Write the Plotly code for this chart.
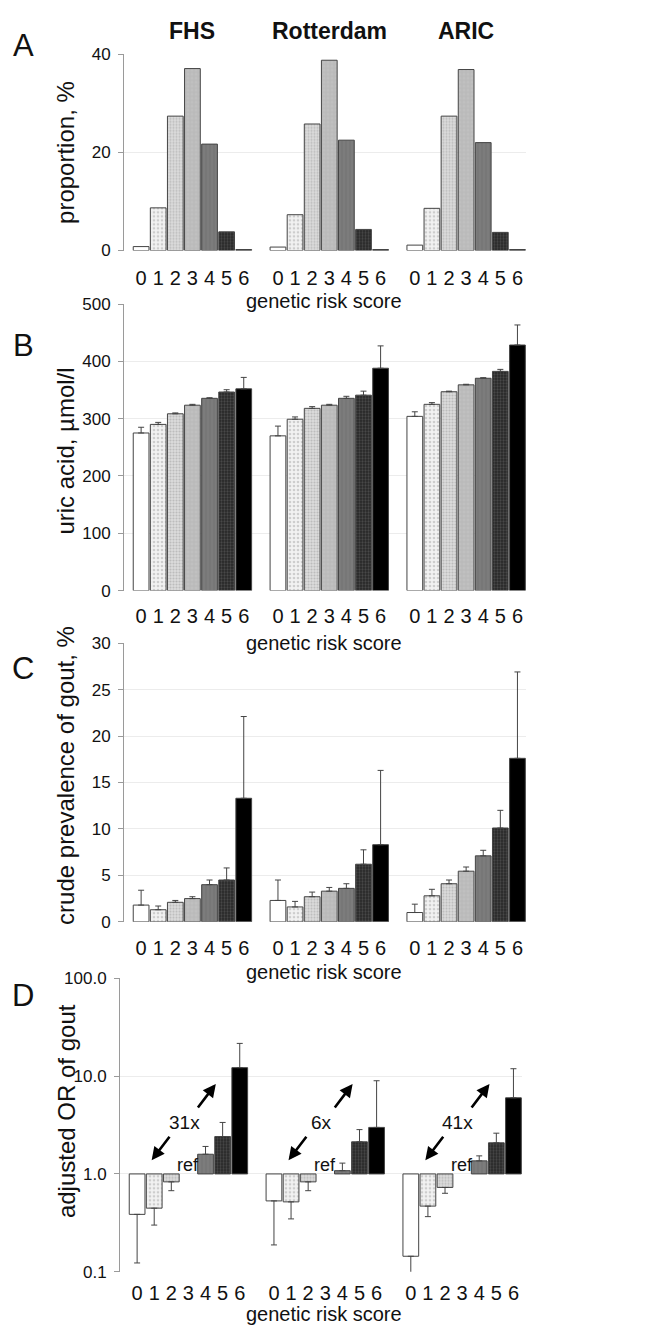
import plotly.graph_objects as go

# ---------------- data ----------------
groups = ["FHS", "Rotterdam", "ARIC"]
scores = ["0", "1", "2", "3", "4", "5", "6"]
fold_labels = ["31x", "6x", "41x"]

# A: proportion, %
prop_fhs = [0.8, 8.7, 27.4, 37.1, 21.7, 3.8, 0.2]
prop_rot = [0.7, 7.3, 25.8, 38.8, 22.5, 4.3, 0.2]
prop_aric = [1.1, 8.6, 27.4, 36.9, 22.0, 3.7, 0.2]

# B: uric acid, umol/l (mean and upper error)
uric_fhs = [275, 290, 308.5, 323.5, 335.5, 346.5, 352]
uric_fhs_err = [10, 3.5, 1.5, 1.5, 1, 4, 20]
uric_rot = [270, 299, 318, 323.5, 335.5, 341, 388]
uric_rot_err = [17, 4, 3, 1.5, 3.5, 7, 39]
uric_aric = [304, 325, 347, 359, 370.5, 382.5, 428.5]
uric_aric_err = [8, 3, 1, 1, 1, 3.5, 35]

# C: crude prevalence of gout, %
gout_fhs = [1.8, 1.3, 2.1, 2.5, 4.0, 4.5, 13.3]
gout_fhs_err = [1.6, 0.4, 0.2, 0.2, 0.5, 1.3, 8.8]
gout_rot = [2.3, 1.6, 2.7, 3.3, 3.6, 6.2, 8.3]
gout_rot_err = [2.2, 0.6, 0.5, 0.4, 0.5, 1.55, 8.0]
gout_aric = [1.0, 2.8, 4.1, 5.45, 7.1, 10.1, 17.6]
gout_aric_err = [0.9, 0.7, 0.4, 0.45, 0.6, 1.9, 9.3]

# D: adjusted OR of gout (score 3 = reference), CI bound away from 1
or_fhs = [0.386, 0.447, 0.83, 1.0, 1.59, 2.41, 12.2]
or_fhs_ci = [0.123, 0.30, 0.674, None, 1.91, 3.36, 21.6]
or_rot = [0.53, 0.518, 0.83, 1.0, 1.08, 2.13, 2.99]
or_rot_ci = [0.188, 0.347, 0.674, None, 1.29, 2.84, 8.97]
or_aric = [0.144, 0.469, 0.728, 1.0, 1.36, 2.08, 6.0]
or_aric_ci = [0.09, 0.366, 0.634, None, 1.53, 2.61, 11.9]
ref_score = 3

# ---------------- layout helpers ----------------
W, H = 650, 1334
GROUP_STEP = 8
REG = "Liberation Sans, Arial"
TXT = "#111111"
AX = "#9a9a9a"
EDGE = "#444444"


def py(p):
    return 1 - p / H


def xpos(g, s):
    return g * GROUP_STEP + s


styles = [
    dict(color="#ffffff", pattern=None),
    dict(color="#f2f2f2", pattern=dict(shape=".", fgcolor="#a8a8a8", bgcolor="#f2f2f2", size=4, solidity=0.35)),
    dict(color="#dcdcdc", pattern=dict(shape=".", fgcolor="#9a9a9a", bgcolor="#dcdcdc", size=3, solidity=0.4)),
    dict(color="#c0c0c0", pattern=dict(shape="+", fgcolor="#a4a4a4", bgcolor="#c0c0c0", size=4, solidity=0.25)),
    dict(color="#7c7c7c", pattern=dict(shape="|", fgcolor="#6a6a6a", bgcolor="#7c7c7c", size=4, solidity=0.3)),
    dict(color="#262626", pattern=dict(shape=".", fgcolor="#6a6a6a", bgcolor="#262626", size=3, solidity=0.45)),
    dict(color="#000000", pattern=None),
]

fig = go.Figure()

panels = [
    ("A", [prop_fhs, prop_rot, prop_aric], None),
    ("B", [uric_fhs, uric_rot, uric_aric], [uric_fhs_err, uric_rot_err, uric_aric_err]),
    ("C", [gout_fhs, gout_rot, gout_aric], [gout_fhs_err, gout_rot_err, gout_aric_err]),
]

for pi, (letter, vals, errs) in enumerate(panels):
    xa = "x" if pi == 0 else f"x{pi+1}"
    ya = "y" if pi == 0 else f"y{pi+1}"
    for s in range(len(scores)):
        st = styles[s]
        marker = dict(color=st["color"], line=dict(color=EDGE, width=1))
        if st["pattern"]:
            marker["pattern"] = st["pattern"]
        kw = {}
        if errs is not None:
            kw["error_y"] = dict(type="data", symmetric=False,
                                 array=[errs[g][s] for g in range(3)],
                                 arrayminus=[0, 0, 0],
                                 color=EDGE, thickness=1, width=3)
        fig.add_trace(go.Bar(
            x=[xpos(g, s) for g in range(3)],
            y=[vals[g][s] for g in range(3)],
            width=0.92, marker=marker, xaxis=xa, yaxis=ya,
            showlegend=False, hoverinfo="skip", **kw))

# Panel D: bars from 1.0 on a log axis
or_vals = [or_fhs, or_rot, or_aric]
or_cis = [or_fhs_ci, or_rot_ci, or_aric_ci]
for s in range(len(scores)):
    if s == ref_score:
        continue
    st = styles[s]
    marker = dict(color=st["color"], line=dict(color=EDGE, width=1))
    if st["pattern"]:
        marker["pattern"] = st["pattern"]
    fig.add_trace(go.Bar(
        x=[xpos(g, s) for g in range(3)],
        y=[or_vals[g][s] - 1 for g in range(3)],
        base=[1, 1, 1],
        width=0.92, marker=marker, xaxis="x4", yaxis="y4",
        showlegend=False, hoverinfo="skip"))

ex, ey, eup, edn = [], [], [], []
for g in range(3):
    for s in range(len(scores)):
        ci = or_cis[g][s]
        if ci is None:
            continue
        v = or_vals[g][s]
        ex.append(xpos(g, s))
        ey.append(v)
        eup.append(ci - v if ci > v else 0)
        edn.append(v - ci if ci < v else 0)
fig.add_trace(go.Scatter(
    x=ex, y=ey, mode="markers", marker=dict(size=1, opacity=0),
    error_y=dict(type="data", symmetric=False, array=eup, arrayminus=edn,
                 color=EDGE, thickness=1, width=3),
    xaxis="x4", yaxis="y4", showlegend=False, hoverinfo="skip"))

# ---------------- axes ----------------
tickvals = [xpos(g, s) for g in range(3) for s in range(len(scores))]
ticktext = [scores[s] for g in range(3) for s in range(len(scores))]

xdom = [124 / W, 526 / W]
xdomD = [120 / W, 522 / W]
ydoms = [
    [py(245), py(46)],
    [py(590), py(299.3)],
    [py(926), py(643.3)],
    [py(1281), py(983.3)],
]
standoffs = [13, 11, 12, 7]

layout = dict(
    width=W, height=H,
    margin=dict(l=0, r=0, t=0, b=0),
    paper_bgcolor="white", plot_bgcolor="white",
    barmode="overlay",
    font=dict(family=REG, color=TXT),
)

for i in range(4):
    xk = "xaxis" if i == 0 else f"xaxis{i+1}"
    yk = "yaxis" if i == 0 else f"yaxis{i+1}"
    yname = "y" if i == 0 else f"y{i+1}"
    xname = "x" if i == 0 else f"x{i+1}"
    layout[xk] = dict(
        domain=xdomD if i == 3 else xdom, anchor=yname,
        range=[-1, 22.5], tickmode="array", tickvals=tickvals, ticktext=ticktext,
        showline=False, showgrid=False, zeroline=False, ticks="",
        ticklabelstandoff=standoffs[i],
        tickfont=dict(family=REG, size=20, color=TXT), fixedrange=True)
    yax = dict(
        domain=ydoms[i], anchor=xname,
        showline=True, linecolor=AX, linewidth=1,
        ticks="outside", ticklen=5, tickcolor=AX, tickwidth=1,
        showgrid=True, gridcolor="#ececec", gridwidth=1, zeroline=False,
        tickfont=dict(family=REG, size=17, color=TXT),
        ticklabelstandoff=4, fixedrange=True)
    if i == 0:
        yax.update(range=[0, 40], tickvals=[0, 20, 40])
    elif i == 1:
        yax.update(range=[0, 500], dtick=100, tick0=0)
    elif i == 2:
        yax.update(range=[0, 30], dtick=5, tick0=0)
    else:
        yax.update(type="log", range=[-1, 2], tickvals=[0.1, 1, 10, 100],
                   ticktext=["0.1", "1.0", "10.0", "100.0"])
    layout[yk] = yax

fig.update_layout(**layout)

# ---------------- annotations ----------------
ann = []
# group titles
for g, name in enumerate(groups):
    ann.append(dict(text=f"<b>{name}</b>", x=xpos(g, 3), xref="x", y=py(22), yref="paper",
                    showarrow=False, xanchor="center", yanchor="middle",
                    font=dict(family=REG, size=23, color=TXT)))
# panel letters
for letter, ypix in zip(["A", "B", "C", "D"], [37, 341, 669, 1001]):
    ann.append(dict(text=letter, x=23 / W, xref="paper", y=py(ypix), yref="paper",
                    showarrow=False, xanchor="center", yanchor="middle",
                    font=dict(family=REG, size=31, color=TXT)))
# y axis titles
ytitles = ["proportion, %", "uric acid, µmol/l", "crude prevalence of gout, %", "adjusted OR of gout"]
for t, ypix in zip(ytitles, [146, 449, 778, 1118]):
    ann.append(dict(text=t, x=66 / W, xref="paper", y=py(ypix), yref="paper", textangle=-90,
                    showarrow=False, xanchor="center", yanchor="middle",
                    font=dict(family=REG, size=24, color=TXT)))
# x axis titles
for ypix in [296, 643, 977, 1324]:
    ann.append(dict(text="genetic risk score", x=324 / W, xref="paper", y=py(ypix), yref="paper",
                    showarrow=False, xanchor="center", yanchor="middle",
                    font=dict(family=REG, size=20, color=TXT)))
# panel D: ref labels, fold-change text and arrows
for g in range(3):
    ann.append(dict(text="ref", x=xpos(g, ref_score), xref="x4", y=0, yref="y4",
                    showarrow=False, xanchor="center", yanchor="bottom",
                    font=dict(family=REG, size=18, color=TXT), yshift=-3))
    ann.append(dict(text=fold_labels[g], x=xpos(g, 2.75), xref="x4", y=0.53, yref="y4",
                    showarrow=False, xanchor="center", yanchor="middle",
                    font=dict(family=REG, size=19, color=TXT)))
    ann.append(dict(text="", x=xpos(g, 4.6), xref="x4", y=0.92, yref="y4",
                    ax=-19, ay=25, axref="pixel", ayref="pixel",
                    showarrow=True, arrowhead=2, arrowsize=1, arrowwidth=2.6, arrowcolor="#000"))
    ann.append(dict(text="", x=xpos(g, 0.85), xref="x4", y=0.14, yref="y4",
                    ax=19, ay=-25, axref="pixel", ayref="pixel",
                    showarrow=True, arrowhead=2, arrowsize=1, arrowwidth=2.6, arrowcolor="#000"))

fig.update_layout(annotations=ann)

fig.write_html("out.html", config={"displayModeBar": False, "staticPlot": True},
               post_script="document.body.style.margin='0';")
